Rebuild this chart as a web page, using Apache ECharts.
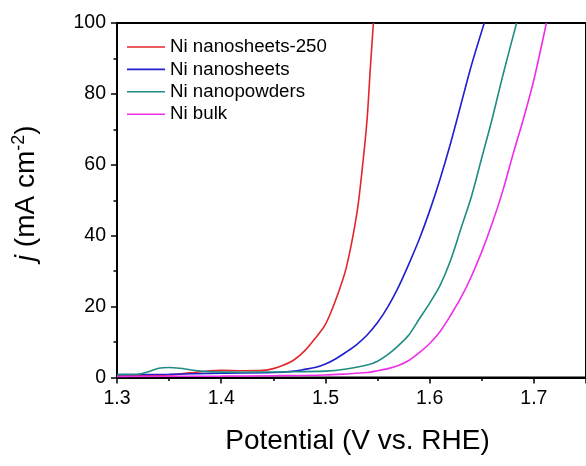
<!DOCTYPE html>
<html>
<head>
<meta charset="utf-8">
<script src="https://cdn.jsdelivr.net/npm/echarts@6/dist/echarts.min.js"></script>
<style>
  html, body { margin: 0; padding: 0; background: #fff; }
  #chart { width: 586px; height: 466px; }
</style>
</head>
<body>
<div id="chart"></div>
<script>
// series names + colours
const seriesNames = ['Ni nanosheets-250', 'Ni nanosheets', 'Ni nanopowders', 'Ni bulk'];
const seriesColors = ['#e3262b', '#1f1fcf', '#1e8c82', '#ee2ee8'];

// Ni nanosheets-250 (red)
const redV = [1.30, 1.33, 1.35, 1.37, 1.39, 1.40, 1.42, 1.44, 1.45, 1.46, 1.47, 1.48, 1.49, 1.50, 1.51, 1.52, 1.53, 1.535, 1.54, 1.543, 1.546];
const redJ = [0.5, 0.5, 0.7, 1.3, 1.9, 2.0, 1.9, 2.0, 2.5, 3.5, 5.0, 7.5, 11, 15, 22, 31, 46, 58, 73, 87, 100];

// Ni nanosheets (blue)
const blueV = [1.30, 1.35, 1.40, 1.45, 1.47, 1.48, 1.49, 1.50, 1.51, 1.52, 1.53, 1.54, 1.55, 1.56, 1.57, 1.58, 1.59, 1.60, 1.61, 1.62, 1.63, 1.64, 1.6524];
const blueJ = [0.8, 0.9, 1.2, 1.4, 1.8, 2.3, 2.8, 3.8, 5.3, 7.2, 9.3, 12, 15.5, 20, 25.5, 32, 39, 47, 56, 66, 77, 88, 100];

// Ni nanopowders (teal)
const tealV = [1.30, 1.32, 1.33, 1.34, 1.35, 1.36, 1.37, 1.38, 1.39, 1.42, 1.46, 1.50, 1.52, 1.54, 1.55, 1.56, 1.57, 1.58, 1.59, 1.60, 1.61, 1.62, 1.63, 1.64, 1.65, 1.66, 1.67, 1.6834];
const tealJ = [0.8, 0.9, 1.6, 2.6, 2.8, 2.6, 2.2, 1.8, 1.6, 1.5, 1.6, 1.8, 2.4, 3.5, 4.6, 6.5, 9, 12, 16.5, 21, 26, 33, 42, 51, 62, 73, 85, 100];

// Ni bulk (magenta)
const bulkV = [1.30, 1.40, 1.45, 1.50, 1.52, 1.54, 1.55, 1.56, 1.57, 1.58, 1.59, 1.60, 1.61, 1.62, 1.63, 1.64, 1.65, 1.66, 1.67, 1.68, 1.69, 1.70, 1.712];
const bulkJ = [0.3, 0.4, 0.5, 0.7, 1.0, 1.4, 1.9, 2.5, 3.4, 4.8, 7, 9.6, 13, 17.5, 22.5, 28.5, 35.5, 43.5, 52.5, 63, 73, 84, 100];

const xTicks = { min: 1.3, max: 1.75, step: 0.1 };
const yTicks = { min: 0, max: 100, step: 20 };

function pairs(xs, ys) {
  return xs.map((x, i) => [x, ys[i]]);
}
const allData = [pairs(redV, redJ), pairs(blueV, blueJ), pairs(tealV, tealJ), pairs(bulkV, bulkJ)];

const font = 'Liberation Sans, Arial, sans-serif';
const axisCommon = {
  axisLine: { show: true, lineStyle: { color: '#000', width: 2 } },
  axisTick: { show: true, inside: false, length: 6, lineStyle: { color: '#000', width: 1.5 } },
  minorTick: { show: true, splitNumber: 2, length: 3.5, lineStyle: { color: '#000', width: 1.5 } },
  splitLine: { show: false },
  axisLabel: { color: '#000', fontSize: 19.5, fontFamily: font, margin: 11 }
};

let myChart = echarts.init(document.getElementById('chart'));
myChart.setOption({
  animation: false,
  backgroundColor: '#fff',
  grid: { left: 117, right: -3, top: 23, bottom: 88.5, show: true, borderColor: '#000', borderWidth: 2, backgroundColor: 'transparent' },
  legend: {
    orient: 'vertical',
    left: 122,
    top: 32,
    icon: 'rect',
    itemWidth: 38,
    itemHeight: 1.6,
    itemGap: 2.4,
    textStyle: { fontSize: 18.7, lineHeight: 20, fontFamily: font, color: '#000' },
    data: seriesNames
  },
  xAxis: Object.assign({}, axisCommon, {
    type: 'value',
    min: xTicks.min,
    max: xTicks.max,
    interval: xTicks.step,
    name: 'Potential (V vs. RHE)',
    nameLocation: 'middle',
    nameGap: 50,
    nameTextStyle: { fontSize: 28, fontFamily: font, color: '#000', padding: [0, 0, 0, 12] },
    axisLabel: Object.assign({}, axisCommon.axisLabel, {
      showMaxLabel: false,
      formatter: v => v.toFixed(1)
    })
  }),
  yAxis: Object.assign({}, axisCommon, {
    type: 'value',
    min: yTicks.min,
    max: yTicks.max,
    interval: yTicks.step,
    name: '{i|j} (mA cm{sup|-2})',
    nameLocation: 'middle',
    nameRotate: 90,
    nameGap: 75,
    nameTextStyle: {
      fontSize: 28, fontFamily: font, color: '#000', padding: [0, 0, 0, 14],
      rich: {
        i: { fontSize: 28, fontStyle: 'italic', fontFamily: font, color: '#000' },
        sup: { fontSize: 18, fontFamily: font, color: '#000', verticalAlign: 'top', lineHeight: 32 }
      }
    }
  }),
  series: allData.map((d, i) => ({
    name: seriesNames[i],
    type: 'line',
    data: d,
    symbol: 'none',
    smooth: 0.3,
    clip: true,
    lineStyle: { color: seriesColors[i], width: 1.6 },
    itemStyle: { color: seriesColors[i] }
  }))
});
</script>
</body>
</html>
